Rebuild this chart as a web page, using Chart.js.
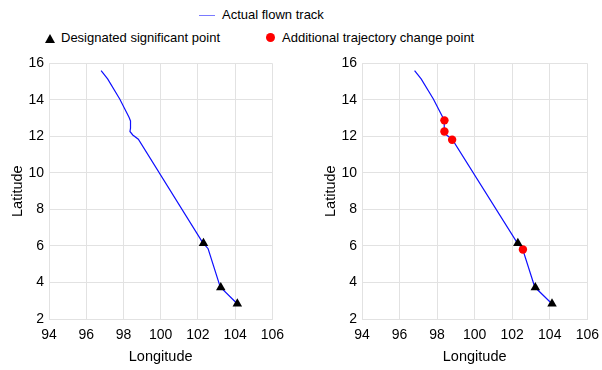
<!doctype html>
<html lang="en"><head>
<meta charset="utf-8"/>
<title>flown track vs points</title>
<script src="https://cdn.jsdelivr.net/npm/chart.js@4.4.6/dist/chart.umd.min.js"></script>
<style>
  *{box-sizing:border-box}
  body{margin:0;background:#fff;width:602px;height:370px;position:relative;overflow:hidden;font:13px "Liberation Sans",Arial,sans-serif;color:#000}
  .box{position:absolute;top:50px;height:320px}
  #left{left:0;width:292px}
  #right{left:313px;width:294px}
  .lg{position:absolute;white-space:nowrap;line-height:16px}
  .lg .line{display:inline-block;width:16px;height:0;border-top:1.5px solid #7a7aff;vertical-align:middle;margin-right:7px}
  .lg .tri{display:inline-block;width:0;height:0;border-left:5px solid transparent;border-right:5px solid transparent;border-bottom:9px solid #000;margin-right:6px;vertical-align:-1px}
  .lg .dot{display:inline-block;width:9px;height:9px;border-radius:50%;background:#f00;margin-right:7px;vertical-align:0}
</style></head>
<body>
<div class="lg" style="left:199px;top:7px"><span class="line"></span>Actual flown track</div>
<div class="lg" style="left:45px;top:30px"><span class="tri"></span>Designated significant point</div>
<div class="lg" style="left:266px;top:30px"><span class="dot"></span>Additional trajectory change point</div>
<div class="box" id="left"><canvas id="cLeft"></canvas></div>
<div class="box" id="right"><canvas id="cRight"></canvas></div>
<script>
// flown track (lon, lat)
const trackLon=[96.8,97.15,97.8,98.3,98.38,98.38,98.35,98.5,98.8,102.25,102.55,103.2,104.1];
const trackLat=[15.6,15.15,14.05,13.05,12.85,12.45,12.27,12.08,11.85,6.2,5.85,3.75,2.85];
// designated significant points
const sigLon=[102.3,103.23,104.12];
const sigLat=[6.15,3.73,2.84];
// additional trajectory change points (right panel only)
const tcpLon=[98.39,98.39,98.8,102.57];
const tcpLat=[12.88,12.27,11.82,5.81];
// axes
const xTicks=[94,96,98,100,102,104,106];
const yTicks=[2,4,6,8,10,12,14,16];

const FAM='"Liberation Sans", Arial, sans-serif';
const TICKF={family:FAM,size:14};
const TITLEF={family:FAM,size:14.5};
const GRID='#e2e2e2';
const pts=(xs,ys)=>xs.map((x,i)=>({x,y:ys[i]}));

function makeChart(id,withTcp){
  const ds=[
    {data:pts(sigLon,sigLat),pointStyle:'triangle',pointRadius:5.5,backgroundColor:'#000',borderColor:'#000',borderWidth:0,showLine:false,order:0},
    {data:pts(trackLon,trackLat),showLine:true,pointRadius:0,borderColor:'#1010ff',borderWidth:1.2,tension:0,order:2}
  ];
  if(withTcp) ds.unshift({data:pts(tcpLon,tcpLat),pointStyle:'circle',pointRadius:4.2,backgroundColor:'#ff0000',borderColor:'#ff0000',borderWidth:0,showLine:false,order:1});
  return new Chart(document.getElementById(id),{
    type:'scatter',
    data:{datasets:ds},
    options:{
      responsive:true,maintainAspectRatio:false,animation:false,
      layout:{padding:{top:11,right:18,left:0,bottom:0}},
      plugins:{legend:{display:false},tooltip:{enabled:false}},
      scales:{
        x:{type:'linear',min:xTicks[0],max:xTicks[xTicks.length-1],
          afterBuildTicks:s=>{s.ticks=xTicks.map(v=>({value:v}));},
          afterFit:s=>{s.height=51;},
          grid:{color:GRID,drawTicks:false},border:{color:GRID},
          ticks:{color:'#000',font:TICKF,padding:8,maxRotation:0},
          title:{display:true,text:'Longitude',color:'#000',font:TITLEF,padding:{top:0,bottom:4}}},
        y:{type:'linear',min:yTicks[0],max:yTicks[yTicks.length-1],
          afterBuildTicks:s=>{s.ticks=yTicks.map(v=>({value:v}));},
          afterFit:s=>{s.width=49;},
          grid:{color:GRID,drawTicks:false},border:{color:GRID},
          ticks:{color:'#000',font:TICKF,padding:5},
          title:{display:true,text:'Latitude',color:'#000',font:TITLEF,padding:{top:9,bottom:0}}}
      }
    }
  });
}
makeChart('cLeft',false);
makeChart('cRight',true);
</script>
</body></html>
